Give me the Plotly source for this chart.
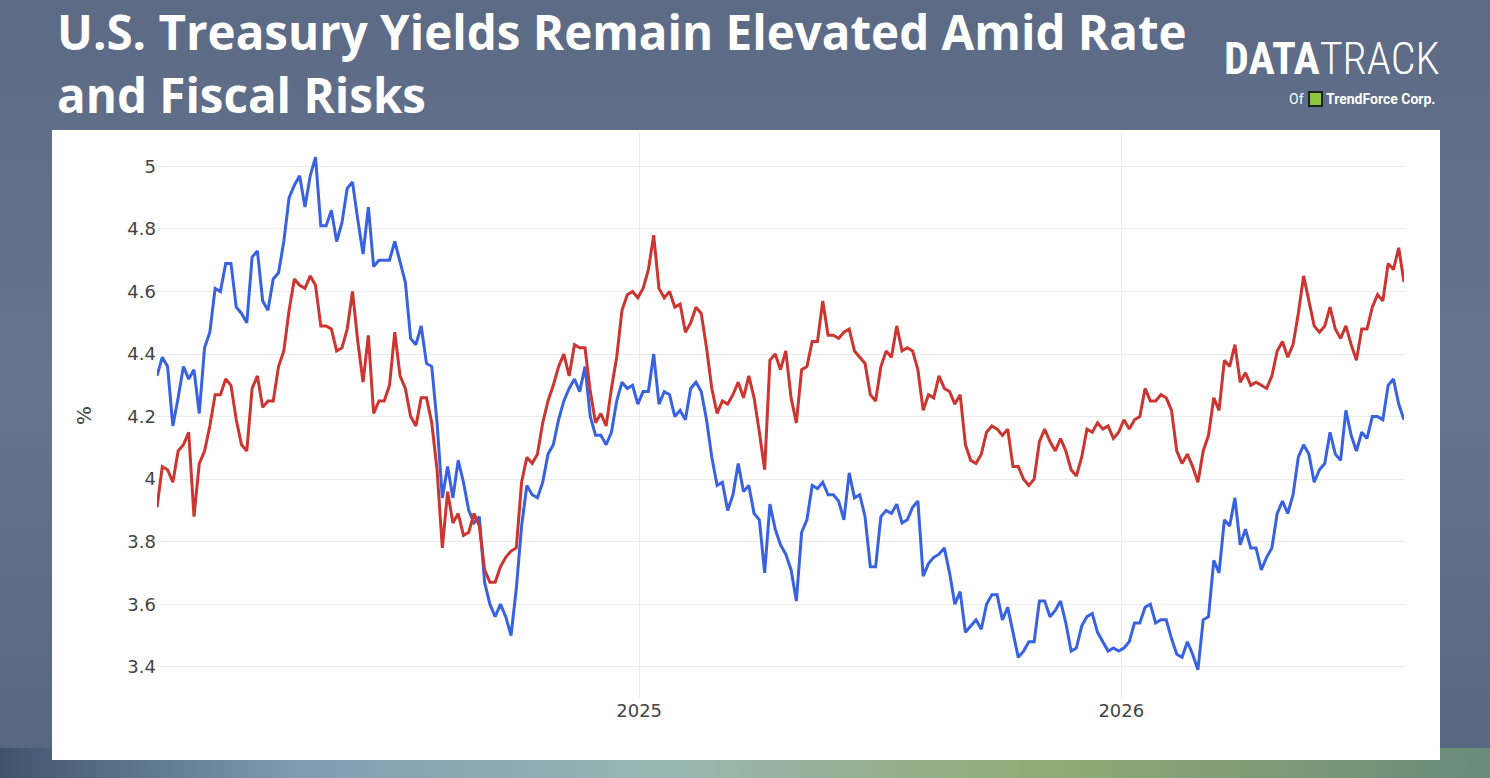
import base64
import pandas as pd
import plotly.graph_objects as go

# yields, one reading every 4 days from 2 Jan 2024
start_date = "2024-01-02"
step = "4D"

yield_2y = [
    4.33, 4.39, 4.36, 4.17, 4.26, 4.36, 4.32, 4.35, 4.21, 4.42,
    4.47, 4.61, 4.60, 4.69, 4.69, 4.55, 4.53, 4.50, 4.71, 4.73,
    4.57, 4.54, 4.64, 4.66, 4.76, 4.90, 4.94, 4.97, 4.87, 4.97,
    5.03, 4.81, 4.81, 4.86, 4.76, 4.82, 4.93, 4.95, 4.83, 4.72,
    4.87, 4.68, 4.70, 4.70, 4.70, 4.76, 4.69, 4.63, 4.45, 4.43,
    4.49, 4.37, 4.36, 4.18, 3.94, 4.04, 3.94, 4.06, 3.99, 3.90,
    3.86, 3.88, 3.67, 3.60, 3.56, 3.60, 3.56, 3.50, 3.65, 3.85,
    3.98, 3.95, 3.94, 3.99, 4.08, 4.11, 4.19, 4.25, 4.29, 4.32,
    4.28, 4.36, 4.20, 4.14, 4.14, 4.11, 4.15, 4.25, 4.31, 4.29,
    4.30, 4.24, 4.28, 4.28, 4.40, 4.24, 4.28, 4.27, 4.20, 4.22,
    4.19, 4.29, 4.31, 4.28, 4.19, 4.07, 3.98, 3.99, 3.90, 3.95,
    4.05, 3.96, 3.98, 3.89, 3.87, 3.70, 3.92, 3.84, 3.79, 3.76,
    3.71, 3.61, 3.83, 3.87, 3.98, 3.97, 3.99, 3.95, 3.95, 3.93,
    3.87, 4.02, 3.94, 3.95, 3.88, 3.72, 3.72, 3.88, 3.90, 3.89,
    3.92, 3.86, 3.87, 3.91, 3.93, 3.69, 3.73, 3.75, 3.76, 3.78,
    3.70, 3.60, 3.64, 3.51, 3.53, 3.55, 3.52, 3.60, 3.63, 3.63,
    3.55, 3.59, 3.51, 3.43, 3.45, 3.48, 3.48, 3.61, 3.61, 3.56,
    3.58, 3.61, 3.54, 3.45, 3.46, 3.53, 3.56, 3.57, 3.51, 3.48,
    3.45, 3.46, 3.45, 3.46, 3.48, 3.54, 3.54, 3.59, 3.60, 3.54,
    3.55, 3.55, 3.49, 3.44, 3.43, 3.48, 3.44, 3.39, 3.55, 3.56,
    3.74, 3.70, 3.87, 3.85, 3.94, 3.79, 3.84, 3.78, 3.78, 3.71,
    3.75, 3.78, 3.89, 3.93, 3.89, 3.95, 4.07, 4.11, 4.08, 3.99,
    4.03, 4.05, 4.15, 4.08, 4.06, 4.22, 4.14, 4.09, 4.15, 4.13,
    4.20, 4.20, 4.19, 4.30, 4.32, 4.24, 4.19,
]

yield_10y = [
    3.91, 4.04, 4.03, 3.99, 4.09, 4.11, 4.15, 3.88, 4.05, 4.09,
    4.17, 4.27, 4.27, 4.32, 4.30, 4.19, 4.11, 4.09, 4.29, 4.33,
    4.23, 4.25, 4.25, 4.36, 4.41, 4.54, 4.64, 4.62, 4.61, 4.65,
    4.62, 4.49, 4.49, 4.48, 4.41, 4.42, 4.48, 4.60, 4.44, 4.31,
    4.46, 4.21, 4.25, 4.25, 4.30, 4.47, 4.33, 4.29, 4.20, 4.17,
    4.26, 4.26, 4.18, 4.03, 3.78, 3.96, 3.86, 3.89, 3.82, 3.83,
    3.89, 3.85, 3.71, 3.67, 3.67, 3.72, 3.75, 3.77, 3.78, 3.99,
    4.07, 4.05, 4.08, 4.18, 4.25, 4.30, 4.36, 4.40, 4.33, 4.43,
    4.42, 4.42, 4.28, 4.18, 4.21, 4.17, 4.29, 4.39, 4.54, 4.59,
    4.60, 4.58, 4.61, 4.67, 4.78, 4.61, 4.58, 4.60, 4.55, 4.56,
    4.47, 4.50, 4.55, 4.53, 4.42, 4.29, 4.21, 4.25, 4.24, 4.27,
    4.31, 4.26, 4.33, 4.26, 4.15, 4.03, 4.38, 4.40, 4.35, 4.41,
    4.26, 4.18, 4.35, 4.36, 4.44, 4.44, 4.57, 4.46, 4.46, 4.45,
    4.47, 4.48, 4.41, 4.39, 4.37, 4.27, 4.25, 4.36, 4.41, 4.39,
    4.49, 4.41, 4.42, 4.41, 4.35, 4.22, 4.27, 4.26, 4.33, 4.29,
    4.28, 4.24, 4.27, 4.11, 4.06, 4.05, 4.08, 4.15, 4.17, 4.16,
    4.14, 4.16, 4.04, 4.04, 4.00, 3.98, 4.00, 4.12, 4.16, 4.12,
    4.09, 4.13, 4.09, 4.03, 4.01, 4.07, 4.16, 4.15, 4.18, 4.16,
    4.17, 4.13, 4.15, 4.19, 4.16, 4.19, 4.20, 4.29, 4.25, 4.25,
    4.27, 4.26, 4.22, 4.09, 4.05, 4.08, 4.04, 3.99, 4.09, 4.14,
    4.26, 4.22, 4.38, 4.36, 4.43, 4.31, 4.34, 4.30, 4.31, 4.30,
    4.29, 4.33, 4.41, 4.44, 4.39, 4.43, 4.53, 4.65, 4.57, 4.49,
    4.47, 4.49, 4.55, 4.48, 4.45, 4.49, 4.43, 4.38, 4.48, 4.48,
    4.55, 4.59, 4.57, 4.69, 4.67, 4.74, 4.63,
]

year_ticks = ["2025-01-01", "2026-01-01"]
year_labels = ["2025", "2026"]

title_lines = ["U.S. Treasury Yields Remain Elevated Amid Rate", "and Fiscal Risks"]

dates = pd.date_range(start_date, periods=len(yield_2y), freq=step)

W, H = 1490, 778
L, R, T, B = 157, 86, 133, 80
PW, PH = W - L - R, H - T - B


# pixel position on the page -> paper coords of the plot area
def px_x(px):
    return (px - L) / PW


def px_y(py):
    return (H - B - py) / PH


# background stand-in for the photo behind the slide
bg_svg = """<svg xmlns='http://www.w3.org/2000/svg' width='1490' height='778' preserveAspectRatio='none'>
<defs>
<linearGradient id='v' x1='0' y1='0' x2='0' y2='1'>
<stop offset='0' stop-color='#5c6a86'/>
<stop offset='0.5' stop-color='#66758f'/>
<stop offset='1' stop-color='#55667f'/>
</linearGradient>
<linearGradient id='h' x1='0' y1='0' x2='1' y2='0'>
<stop offset='0' stop-color='#41526f'/>
<stop offset='0.2' stop-color='#7f9db1'/>
<stop offset='0.45' stop-color='#9ab6b3'/>
<stop offset='0.7' stop-color='#92ab73'/>
<stop offset='1' stop-color='#6a8a7a'/>
</linearGradient>
</defs>
<rect width='1490' height='778' fill='url(#v)'/>
<rect y='748' width='1490' height='30' fill='url(#h)'/>
</svg>"""
bg_src = "data:image/svg+xml;base64," + base64.b64encode(bg_svg.encode()).decode()

fig = go.Figure()

fig.add_trace(go.Scatter(
    x=dates, y=yield_2y, mode="lines", name="2-Year",
    line=dict(color="#3862e0", width=3),
))
fig.add_trace(go.Scatter(
    x=dates, y=yield_10y, mode="lines", name="10-Year",
    line=dict(color="#cc3530", width=3),
))

title_font = dict(family="Open Sans", size=47.5, color="white")

fig.update_layout(
    width=W, height=H,
    margin=dict(l=L, r=R, t=T, b=B),
    paper_bgcolor="#5e6c88",
    plot_bgcolor="white",
    showlegend=False,
    font=dict(family="DejaVu Sans, Verdana, sans-serif", color="#444", size=18),
    images=[dict(
        source=bg_src, xref="paper", yref="paper",
        x=px_x(0), y=px_y(0), sizex=W / PW, sizey=H / PH,
        xanchor="left", yanchor="top", sizing="stretch", layer="below",
    )],
    shapes=[
        # white panel holding the chart
        dict(type="rect", xref="paper", yref="paper",
             x0=px_x(52), x1=px_x(1440), y0=px_y(760), y1=px_y(130),
             fillcolor="white", line=dict(width=0), layer="below"),
        # little TrendForce mark
        dict(type="rect", xref="paper", yref="paper",
             x0=px_x(1309), x1=px_x(1322), y0=px_y(106), y1=px_y(92),
             fillcolor="#8cc63f", line=dict(color="#1e1e1e", width=2)),
    ],
    annotations=[
        dict(text="<b>%s</b>" % title_lines[0],
             xref="paper", yref="paper", x=px_x(55), y=px_y(31),
             xanchor="left", yanchor="middle", align="left", showarrow=False,
             font=title_font),
        dict(text="<b>%s</b>" % title_lines[1],
             xref="paper", yref="paper", x=px_x(55), y=px_y(94),
             xanchor="left", yanchor="middle", align="left", showarrow=False,
             font=title_font),
        dict(text="<b>DATA</b><span style='font-weight:300'>TRACK</span>",
             xref="paper", yref="paper", x=px_x(1332), y=px_y(59),
             xanchor="center", yanchor="middle", showarrow=False,
             font=dict(family="Roboto Condensed, Roboto", size=44, color="white")),
        dict(text="Of", xref="paper", yref="paper", x=px_x(1306), y=px_y(99),
             xanchor="right", yanchor="middle", showarrow=False,
             font=dict(family="Roboto", size=14, color="white")),
        dict(text="<b>TrendForce Corp.</b>", xref="paper", yref="paper",
             x=px_x(1324), y=px_y(99), xanchor="left", yanchor="middle",
             showarrow=False, font=dict(family="Roboto", size=14, color="white")),
    ],
)

fig.update_xaxes(
    tickvals=year_ticks, ticktext=year_labels,
    showgrid=True, gridcolor="#ebebeb", gridwidth=1,
    zeroline=False, showline=False, ticks="",
)
fig.update_yaxes(
    range=[3.30, 5.107], dtick=0.2, tick0=3.4,
    showgrid=True, gridcolor="#ebebeb", gridwidth=1,
    zeroline=False, showline=False, ticks="",
    title=dict(text="%", standoff=30, font=dict(size=20)),
)

fig.write_html(
    "out.html",
    config={"displayModeBar": False},
    post_script="document.body.style.margin = '0';",
)
